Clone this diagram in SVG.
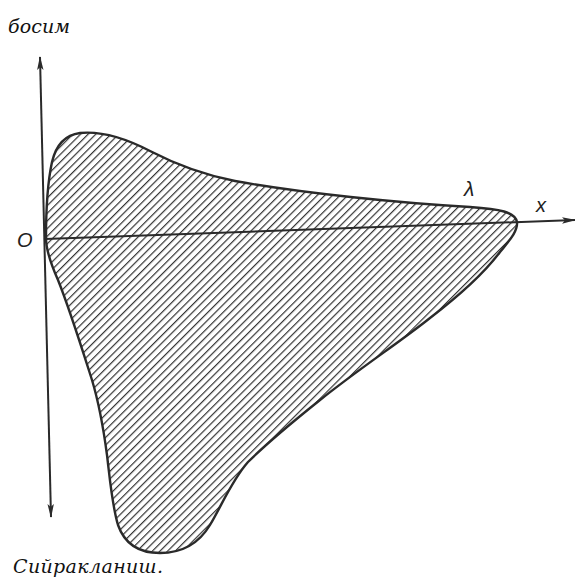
<svg xmlns="http://www.w3.org/2000/svg" width="575" height="579" viewBox="0 0 575 579">
  <style>
    .lbl { font-family: "DejaVu Serif", "Liberation Serif", serif; font-style: italic; fill: #111; }
    .ax { font-family: "Liberation Sans", "DejaVu Sans", sans-serif; font-style: italic; fill: #222; }
    .axis { stroke: #2a2a2a; stroke-width: 2; fill: none; }
    .outline { stroke: #2a2a2a; stroke-width: 2.4; fill: url(#hatch); }
  </style>
  <defs>
    <pattern id="hatch" patternUnits="userSpaceOnUse" width="5.4" height="5.4" patternTransform="rotate(-45)">
      <rect width="5.4" height="5.4" fill="#fff"/>
      <line x1="0" y1="0" x2="5.4" y2="0" stroke="#333" stroke-width="2.4"/>
    </pattern>
    <marker id="arr" markerWidth="14" markerHeight="8" refX="13" refY="4" orient="auto-start-reverse" markerUnits="userSpaceOnUse">
      <path d="M0,0.8 L14,4 L0,7.2 L3,4 Z" fill="#2a2a2a"/>
    </marker>
  </defs>
  <rect width="575" height="579" fill="#fff"/>

  <g id="pressure-diagram">
    <path class="outline" d="M 46,238 C 46,215 47,185 52,162 C 56,145 65,135 80,133 C 100,131 125,138 150,151 C 175,164 200,174 235,181 C 300,193 400,203 470,207 C 500,209 515,212 517,222 C 518,232 508,242 500,252 C 485,272 460,295 430,318 C 400,342 360,368 320,400 C 295,420 265,445 248,462 C 232,480 222,505 210,525 C 198,545 180,553 160,553 C 140,553 125,545 118,525 C 112,505 110,480 107,455 C 103,425 98,400 92,380 C 84,355 70,310 58,280 C 50,262 46,250 46,238 Z"/>
  </g>

  <g id="connectors">
    <line class="axis" x1="45" y1="239" x2="575" y2="220" marker-end="url(#arr)"/>
    <line class="axis" x1="51" y1="517" x2="40" y2="57" marker-start="url(#arr)" marker-end="url(#arr)"/>
  </g>

  <g id="labels">
    <text class="lbl" x="8" y="33" font-size="19" textLength="62">босим</text>
    <text class="lbl" x="13" y="573" font-size="19" textLength="150">Сийракланиш.</text>
    <text class="ax" x="17" y="247" font-size="20">O</text>
    <text class="ax" x="464" y="196" font-size="21">λ</text>
    <text class="ax" x="536" y="212" font-size="20">x</text>
  </g>
</svg>
